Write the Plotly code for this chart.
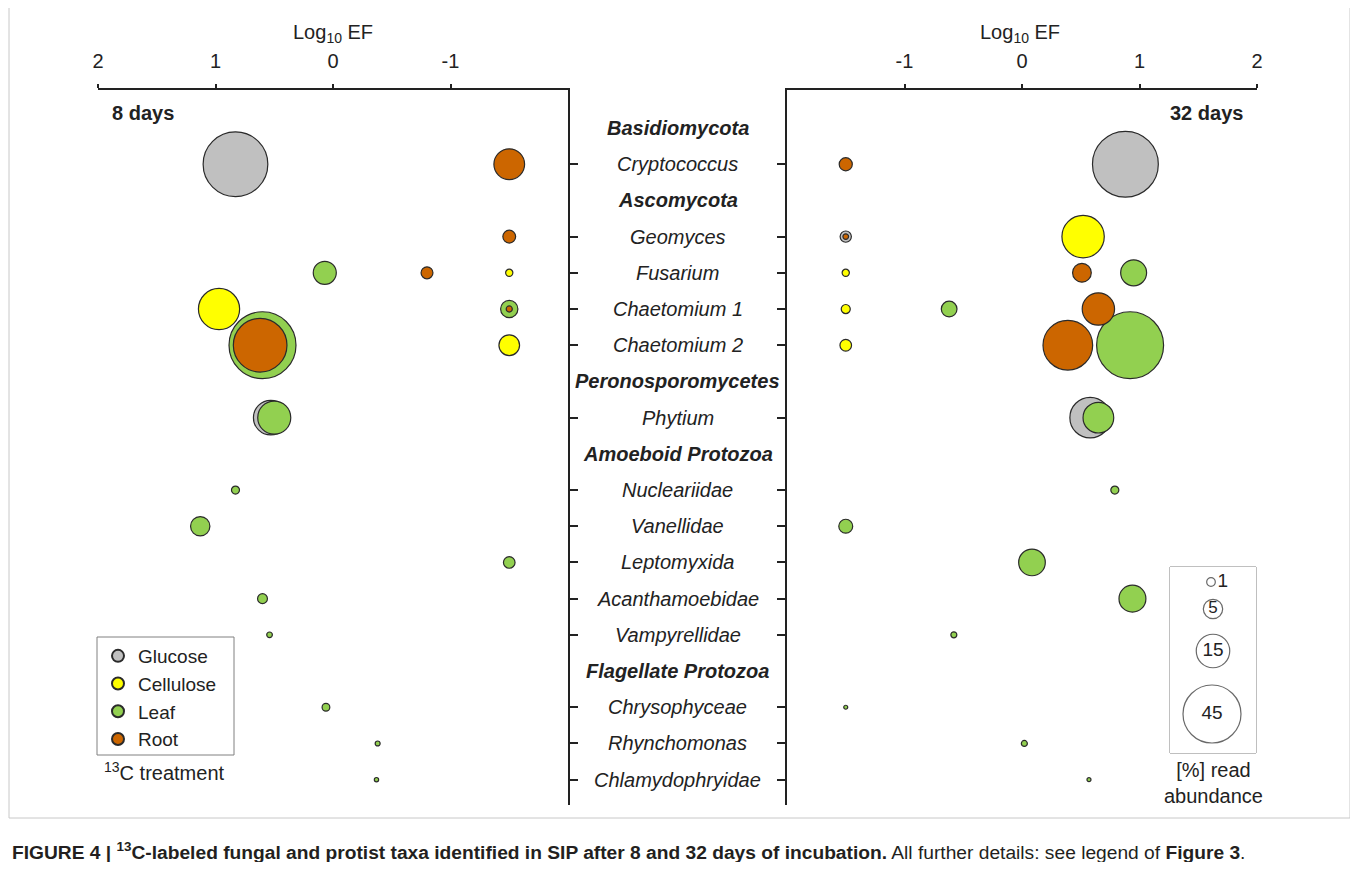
import plotly.graph_objects as go

# ---------------- data ----------------
rows = ["Basidiomycota", "Cryptococcus", "Ascomycota", "Geomyces", "Fusarium",
        "Chaetomium 1", "Chaetomium 2", "Peronosporomycetes", "Phytium",
        "Amoeboid Protozoa", "Nucleariidae", "Vanellidae", "Leptomyxida",
        "Acanthamoebidae", "Vampyrellidae", "Flagellate Protozoa",
        "Chrysophyceae", "Rhynchomonas", "Chlamydophryidae"]
headers = ["Basidiomycota", "Ascomycota", "Peronosporomycetes",
           "Amoeboid Protozoa", "Flagellate Protozoa"]
taxa = [r for r in rows if r not in headers]

treatments = ["Glucose", "Cellulose", "Leaf", "Root"]
colors = {"Glucose": "#c0c0c0", "Cellulose": "#ffff00",
          "Leaf": "#92d050", "Root": "#cc6600"}

# 8 days : taxon, log10 EF, read abundance [%]
d8_glucose_taxa = ["Cryptococcus", "Phytium"]
d8_glucose_ef = [0.83, 0.53]
d8_glucose_ab = [56, 16]

d8_cellulose_taxa = ["Fusarium", "Chaetomium 1", "Chaetomium 2"]
d8_cellulose_ef = [-1.5, 0.97, -1.5]
d8_cellulose_ab = [0.7, 22.7, 5.7]

d8_leaf_taxa = ["Fusarium", "Chaetomium 1", "Chaetomium 2", "Phytium", "Nucleariidae",
                "Vanellidae", "Leptomyxida", "Acanthamoebidae", "Vampyrellidae",
                "Chrysophyceae", "Rhynchomonas", "Chlamydophryidae"]
d8_leaf_ef = [0.07, -1.5, 0.60, 0.50, 0.83, 1.13, -1.5, 0.60, 0.54, 0.06, -0.38, -0.37]
d8_leaf_ab = [7.1, 4.0, 60, 14.6, 0.86, 5.0, 1.8, 1.3, 0.43, 0.8, 0.33, 0.25]

d8_root_taxa = ["Cryptococcus", "Geomyces", "Fusarium", "Chaetomium 1", "Chaetomium 2"]
d8_root_ef = [-1.5, -1.5, -0.80, -1.5, 0.62]
d8_root_ab = [12.6, 2.2, 1.9, 0.5, 38.5]

# 32 days
d32_glucose_taxa = ["Cryptococcus", "Geomyces", "Phytium"]
d32_glucose_ef = [0.88, -1.5, 0.58]
d32_glucose_ab = [58, 1.7, 22]

d32_cellulose_taxa = ["Geomyces", "Fusarium", "Chaetomium 1", "Chaetomium 2"]
d32_cellulose_ef = [0.52, -1.5, -1.5, -1.5]
d32_cellulose_ab = [24, 0.7, 1.1, 1.8]

d32_leaf_taxa = ["Fusarium", "Chaetomium 1", "Chaetomium 2", "Phytium", "Nucleariidae",
                 "Vanellidae", "Leptomyxida", "Acanthamoebidae", "Vampyrellidae",
                 "Chrysophyceae", "Rhynchomonas", "Chlamydophryidae"]
d32_leaf_ef = [0.95, -0.62, 0.92, 0.65, 0.79, -1.5, 0.085, 0.94, -0.58, -1.5, 0.02, 0.57]
d32_leaf_ab = [9, 3.3, 60, 12.6, 0.86, 2.6, 9.5, 9.7, 0.48, 0.12, 0.48, 0.12]

d32_root_taxa = ["Cryptococcus", "Geomyces", "Fusarium", "Chaetomium 1", "Chaetomium 2"]
d32_root_ef = [-1.5, -1.5, 0.51, 0.65, 0.39]
d32_root_ab = [2.3, 0.43, 4.7, 14, 33]

x_ticks_left = [2, 1, 0, -1]
x_ticks_right = [-1, 0, 1, 2]

size_legend_values = [1, 5, 15, 45]
size_legend_labels = ["1", "5", "15", "45"]

# ---------------- layout helpers ----------------
W, H, OFF = 1342, 854, 8
FONT = "Arial, 'Liberation Sans', sans-serif"
INK = "#222222"


def px(X):
    return (X - OFF) / W


def py(Y):
    return 1 - (Y - OFF) / H


SIZEREF = 2 * 45 / 58 ** 2  # 45 % -> 58 px diameter

panels = {
    "8": {"Glucose": (d8_glucose_taxa, d8_glucose_ef, d8_glucose_ab),
          "Cellulose": (d8_cellulose_taxa, d8_cellulose_ef, d8_cellulose_ab),
          "Leaf": (d8_leaf_taxa, d8_leaf_ef, d8_leaf_ab),
          "Root": (d8_root_taxa, d8_root_ef, d8_root_ab)},
    "32": {"Glucose": (d32_glucose_taxa, d32_glucose_ef, d32_glucose_ab),
           "Cellulose": (d32_cellulose_taxa, d32_cellulose_ef, d32_cellulose_ab),
           "Leaf": (d32_leaf_taxa, d32_leaf_ef, d32_leaf_ab),
           "Root": (d32_root_taxa, d32_root_ef, d32_root_ab)},
}

fig = go.Figure()
for t in treatments:
    for key, xa, ya, show in [("8", "x", "y", True), ("32", "x2", "y2", False)]:
        tx, ef, ab = panels[key][t]
        fig.add_trace(go.Scatter(
            x=ef, y=tx, mode="markers", name=t, legendgroup=t, showlegend=show,
            xaxis=xa, yaxis=ya,
            marker=dict(size=ab, sizemode="area", sizeref=SIZEREF, sizemin=2,
                        color=colors[t], opacity=1,
                        line=dict(color="#2a2a2a", width=1.2)),
            hovertemplate=t + "<br>%{y}<br>log10 EF %{x}<extra></extra>"))

# size legend
fig.add_trace(go.Scatter(
    x=[1211, 1213, 1213, 1212], y=[582, 609, 651, 714],
    mode="markers+text", text=size_legend_labels,
    textposition=["middle right", "middle center", "middle center", "middle center"],
    textfont=dict(size=[19, 17, 19, 19], color=INK, family=FONT),
    marker=dict(size=size_legend_values, sizemode="area", sizeref=SIZEREF,
                color="white", line=dict(color="#2a2a2a", width=1.2)),
    xaxis="x3", yaxis="y3", showlegend=False, hoverinfo="skip"))

common_x = dict(side="top", ticks="outside", ticklen=4, tickwidth=1.5, tickcolor=INK,
                showline=True, linecolor=INK, linewidth=1.5, showgrid=False,
                zeroline=False, tickfont=dict(size=20, color=INK, family=FONT),
                ticklabelstandoff=8, automargin=False, tickmode="array")
common_y = dict(domain=[py(805), py(90)], type="category", categoryorder="array",
                categoryarray=rows, range=[18.7, -1.05], tickmode="array",
                tickvals=taxa, ticks="outside", ticklen=8, tickwidth=1.5,
                tickcolor=INK, showline=True, linecolor=INK, linewidth=1.5,
                showticklabels=False, showgrid=False, zeroline=False,
                automargin=False)

fig.update_layout(
    width=W, height=H, margin=dict(l=0, r=0, t=0, b=0, pad=0, autoexpand=False),
    paper_bgcolor="white", plot_bgcolor="white",
    font=dict(family=FONT, size=20, color=INK),
    xaxis=dict(domain=[px(98), px(568)], range=[2, -2], anchor="y",
               tickvals=x_ticks_left, ticktext=[str(v) for v in x_ticks_left],
               **common_x),
    yaxis=dict(anchor="x", side="right", **common_y),
    xaxis2=dict(domain=[px(787), px(1257)], range=[-2, 2], anchor="y2",
                tickvals=x_ticks_right, ticktext=[str(v) for v in x_ticks_right],
                **common_x),
    yaxis2=dict(anchor="x2", side="left", **common_y),
    xaxis3=dict(domain=[px(1170), px(1256)], range=[1170, 1256], visible=False,
                anchor="y3", automargin=False),
    yaxis3=dict(domain=[py(753), py(567)], range=[753, 567], visible=False,
                anchor="x3", automargin=False),
    legend=dict(x=px(98), y=py(637), xanchor="left", yanchor="top",
                borderwidth=0, bgcolor="rgba(255,255,255,0)",
                font=dict(size=19, color=INK, family=FONT),
                itemsizing="constant", tracegroupgap=0),
    hovermode="closest",
)

ann = []
# center taxon labels
for r in rows:
    if r in headers:
        txt = "<b><i>%s</i></b>" % r
    else:
        txt = "<i>%s</i>" % r
    ann.append(dict(x=px(677.5), xref="paper", y=r, yref="y", text=txt,
                    showarrow=False, xanchor="center", yanchor="middle",
                    font=dict(size=20, color=INK, family=FONT)))

ann += [
    dict(x=px(333), y=py(33), text="Log<sub>10</sub> EF"),
    dict(x=px(1020), y=py(33), text="Log<sub>10</sub> EF"),
    dict(x=px(110), y=py(113), text="<b>8 days</b>", xanchor="left"),
    dict(x=px(1245), y=py(113), text="<b>32 days</b>", xanchor="right"),
    dict(x=px(164), y=py(771), text="<sup>13</sup>C treatment"),
    dict(x=px(1213), y=py(783), text="[%] read<br>abundance"),
]
for a in ann[len(rows):]:
    a.setdefault("xanchor", "center")
    a.update(xref="paper", yref="paper", yanchor="middle", showarrow=False,
             font=dict(size=20, color=INK, family=FONT))

ann.append(dict(
    x=px(10), y=py(851), xref="paper", yref="paper", xanchor="left", yanchor="middle",
    showarrow=False, align="left",
    text="<b>FIGURE 4 | <sup>13</sup>C-labeled fungal and protist taxa identified in SIP "
         "after 8 and 32 days of incubation.</b> All further details: see legend of "
         "<b>Figure 3</b>.",
    font=dict(size=19.2, color="#231f20", family=FONT)))

fig.update_layout(annotations=ann)

fig.update_layout(shapes=[
    dict(type="rect", xref="paper", yref="paper", x0=px(9), x1=px(1350),
         y0=py(818), y1=py(3), line=dict(color="#c8c8c8", width=1), layer="below"),
    dict(type="rect", xref="paper", yref="paper", x0=px(1170), x1=px(1256),
         y0=py(753), y1=py(567), line=dict(color="#808080", width=1), layer="below"),
    dict(type="rect", xref="paper", yref="paper", x0=px(97), x1=px(234),
         y0=py(755), y1=py(637), line=dict(color="#808080", width=1), layer="below"),
])

fig.write_html("out.html")
